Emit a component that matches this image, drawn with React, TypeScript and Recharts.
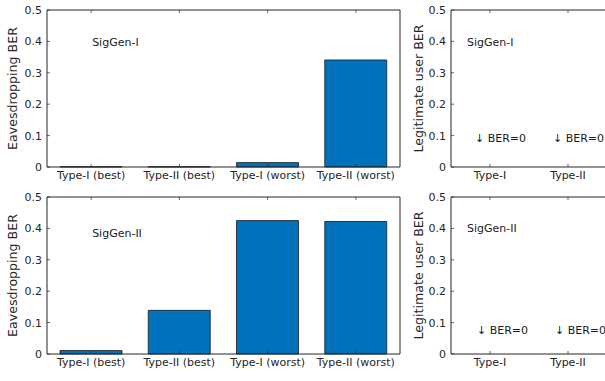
import { BarChart, Bar, XAxis, YAxis, ReferenceDot } from 'recharts';

const eveCategories = ['Type-I (best)', 'Type-II (best)', 'Type-I (worst)', 'Type-II (worst)'];
const eveBerSigGen1 = [0.001, 0.001, 0.014, 0.341];
const eveBerSigGen2 = [0.011, 0.139, 0.425, 0.422];

const userCategories = ['Type-I', 'Type-II'];
const userBerSigGen1 = [0, 0];
const userBerSigGen2 = [0, 0];

const yTicks = [0, 0.1, 0.2, 0.3, 0.4, 0.5];
const noteText = '\u2193 BER=0';

const FONT = '"DejaVu Sans", Verdana, sans-serif';
const INK = '#262626';
const TICK = 3; // MATLAB style inward ticks

// bottom axis: label below, tick line pointing up into the plot
const BottomTick = (m: number) => (tp: any) => {
  const ay = tp.y - m;
  return (
    <g>
      <line x1={tp.x} y1={ay} x2={tp.x} y2={ay - TICK} stroke={INK} strokeWidth={0.7} />
      <text x={tp.x} y={tp.y} dy="0.71em" textAnchor="middle" fontSize={11} fill={INK} fontFamily={FONT}>
        {tp.payload.value}
      </text>
    </g>
  );
};

const LeftTick = (m: number) => (tp: any) => {
  const ax = tp.x + m;
  return (
    <g>
      <line x1={ax} y1={tp.y} x2={ax + TICK} y2={tp.y} stroke={INK} strokeWidth={0.7} />
      <text x={tp.x} y={tp.y} dy="0.355em" textAnchor="end" fontSize={11} fill={INK} fontFamily={FONT}>
        {tp.payload.value}
      </text>
    </g>
  );
};

const TopTick = (tp: any) => (
  <line x1={tp.x} y1={tp.y} x2={tp.x} y2={tp.y + TICK} stroke={INK} strokeWidth={0.7} />
);

const RightTick = (tp: any) => (
  <line x1={tp.x} y1={tp.y} x2={tp.x - TICK} y2={tp.y} stroke={INK} strokeWidth={0.7} />
);

type PanelProps = {
  categories: string[];
  values: number[];
  yLabel: string;
  labelX: number;
  tag: string;
  tagY: number;
  tagDx: number;
  noteY?: number;
  noteDx?: number;
  width: number;
  yAxisWidth: number;
  marginRight: number;
};

function Panel(p: PanelProps) {
  const data = p.categories.map((name, i) => ({ name, value: p.values[i] }));

  return (
    <BarChart
      width={p.width}
      height={190}
      data={data}
      margin={{ top: 9, right: p.marginRight - 1, left: 0, bottom: 3 }}
    >
      <XAxis
        dataKey="name"
        height={20}
        stroke={INK}
        tickLine={false}
        tickSize={0}
        tickMargin={4}
        tick={BottomTick(4)}
        interval={0}
      />
      <XAxis
        xAxisId="top"
        orientation="top"
        dataKey="name"
        height={1}
        stroke={INK}
        tickLine={false}
        tickSize={0}
        tickMargin={0}
        tick={TopTick}
        interval={0}
      />
      <YAxis
        domain={[0, 0.5]}
        ticks={yTicks}
        width={p.yAxisWidth}
        stroke={INK}
        tickLine={false}
        tickSize={0}
        tickMargin={5}
        tick={LeftTick(5)}
        interval={0}
        label={(lp: any) => {
          const vb = lp.viewBox || { y: 10, height: 157 };
          const cy = vb.y + vb.height / 2;
          return (
            <text
              x={p.labelX}
              y={cy}
              transform={`rotate(-90, ${p.labelX}, ${cy})`}
              textAnchor="middle"
              dominantBaseline="central"
              fontSize={12.6}
              fill={INK}
              fontFamily={FONT}
            >
              {p.yLabel}
            </text>
          );
        }}
      />
      <YAxis
        yAxisId="right"
        orientation="right"
        domain={[0, 0.5]}
        ticks={yTicks}
        width={1}
        stroke={INK}
        tickLine={false}
        tickSize={0}
        tickMargin={0}
        tick={RightTick}
        interval={0}
      />
      <Bar
        dataKey="value"
        fill="#0072BD"
        stroke="#1a1a1a"
        strokeWidth={0.8}
        barSize={62}
        isAnimationActive={false}
      />
      <ReferenceDot
        x={p.categories[0]}
        y={p.tagY}
        r={0}
        ifOverflow="visible"
        label={(lp: any) => (
          <text
            x={lp.viewBox.x + p.tagDx}
            y={lp.viewBox.y}
            dominantBaseline="central"
            fontSize={11}
            fill="#1a1a1a"
            fontFamily={FONT}
          >
            {p.tag}
          </text>
        )}
      />
      {p.noteY !== undefined &&
        p.categories.map((c) => (
          <ReferenceDot
            key={c}
            x={c}
            y={p.noteY}
            r={0}
            ifOverflow="visible"
            label={(lp: any) => (
              <text
                x={lp.viewBox.x + (p.noteDx ?? 0)}
                y={lp.viewBox.y}
                dominantBaseline="central"
                fontSize={11}
                fill="#1a1a1a"
                fontFamily={FONT}
              >
                {noteText}
              </text>
            )}
          />
        ))}
    </BarChart>
  );
}

export default function App() {
  return (
    <div
      style={{
        position: 'absolute',
        left: 0,
        top: 0,
        width: 605,
        height: 381,
        overflow: 'hidden',
        background: '#fff',
      }}
    >
      <div style={{ position: 'absolute', left: 0, top: 0 }}>
        <Panel
          categories={eveCategories}
          values={eveBerSigGen1}
          yLabel="Eavesdropping BER"
          labelX={12}
          tag="SigGen-I"
          tagY={0.395}
          tagDx={1}
          width={410}
          yAxisWidth={47}
          marginRight={10}
        />
      </div>
      <div style={{ position: 'absolute', left: 0, top: 187 }}>
        <Panel
          categories={eveCategories}
          values={eveBerSigGen2}
          yLabel="Eavesdropping BER"
          labelX={12}
          tag="SigGen-II"
          tagY={0.385}
          tagDx={1}
          width={410}
          yAxisWidth={47}
          marginRight={10}
        />
      </div>
      <div style={{ position: 'absolute', left: 400, top: 0 }}>
        <Panel
          categories={userCategories}
          values={userBerSigGen1}
          yLabel="Legitimate user BER"
          labelX={18}
          tag="SigGen-I"
          tagY={0.395}
          tagDx={-23}
          noteY={0.09}
          noteDx={-15}
          width={220}
          yAxisWidth={51}
          marginRight={13}
        />
      </div>
      <div style={{ position: 'absolute', left: 400, top: 187 }}>
        <Panel
          categories={userCategories}
          values={userBerSigGen2}
          yLabel="Legitimate user BER"
          labelX={18}
          tag="SigGen-II"
          tagY={0.4}
          tagDx={-23}
          noteY={0.076}
          noteDx={-13}
          width={220}
          yAxisWidth={51}
          marginRight={13}
        />
      </div>
    </div>
  );
}
